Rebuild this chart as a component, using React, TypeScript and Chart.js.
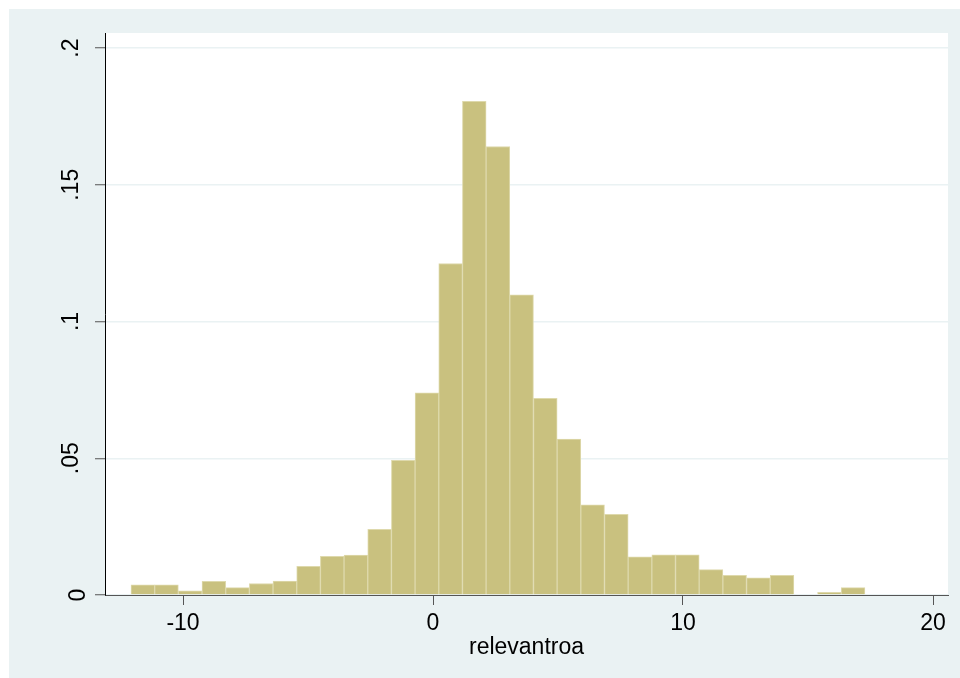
import React, { useEffect, useRef } from "react";
import { Chart, registerables } from "chart.js";

Chart.register(...registerables);

// Histogram bin centres (relevantroa) and densities
const binCenters = [
  -11.607, -10.66, -9.713, -8.766, -7.819, -6.872, -5.925, -4.978, -4.031, -3.084,
  -2.137, -1.19, -0.243, 0.704, 1.651, 2.598, 3.545, 4.492, 5.439, 6.386,
  7.333, 8.28, 9.227, 10.174, 11.121, 12.068, 13.015, 13.962, 14.909, 15.856,
  16.803,
];
const density = [
  0.0037, 0.0037, 0.0015, 0.005, 0.0027, 0.0042, 0.0051, 0.0105, 0.0141, 0.0146,
  0.024, 0.0492, 0.0739, 0.1212, 0.1805, 0.164, 0.1098, 0.0719, 0.057, 0.033,
  0.0295, 0.014, 0.0147, 0.0147, 0.0093, 0.0072, 0.0063, 0.0072, 0, 0.001,
  0.0027,
];
const xTicks = [-10, 0, 10, 20];
const yTicks = [0, 0.05, 0.1, 0.15, 0.2];
const yTickLabels = ["0", ".05", ".1", ".15", ".2"];
const xTitle = "relevantroa";

const FONT = "'Liberation Sans', Arial, sans-serif";

export default function App() {
  const ref = useRef<HTMLCanvasElement>(null);

  useEffect(() => {
    document.body.style.margin = "0";
    const canvas = ref.current;
    if (!canvas) return;

    const bgPlugin = {
      id: "bgPlugin",
      beforeDraw(chart: any) {
        const { ctx, chartArea: a, width, height } = chart;
        ctx.save();
        ctx.fillStyle = "#ffffff";
        ctx.fillRect(0, 0, width, height);
        ctx.fillStyle = "#EAF2F3";
        ctx.fillRect(9, 9, width - 9, height - 9);
        ctx.fillStyle = "#ffffff";
        ctx.fillRect(a.left, a.top, a.right - a.left, a.bottom - a.top);
        ctx.restore();
      },
    };

    const yLabelPlugin = {
      id: "yLabelPlugin",
      afterDraw(chart: any) {
        const s = chart.scales.y;
        const ctx = chart.ctx;
        ctx.save();
        ctx.fillStyle = "#000000";
        ctx.font = `23px ${FONT}`;
        ctx.textAlign = "center";
        ctx.textBaseline = "alphabetic";
        yTicks.forEach((v, i) => {
          const label = yTickLabels[i];
          const y = s.getPixelForValue(v);
          const x = label === "0" ? 85 : 78;
          ctx.save();
          ctx.translate(x, y);
          ctx.rotate(-Math.PI / 2);
          ctx.fillText(label, 0, 0);
          ctx.restore();
        });
        ctx.restore();
      },
    };

    const chart = new Chart(canvas, {
      type: "bar",
      data: {
        datasets: [
          {
            data: binCenters.map((x, i) => ({ x, y: density[i] })),
            backgroundColor: "#C9C17F",
            borderColor: "#DED9AC",
            borderWidth: 1,
            barPercentage: 1,
            categoryPercentage: 1,
          },
        ],
      },
      options: {
        responsive: false,
        animation: false,
        layout: { padding: { top: 33, right: 12, bottom: 0, left: 0 } },
        plugins: { legend: { display: false }, tooltip: { enabled: false } },
        scales: {
          x: {
            type: "linear",
            offset: false,
            min: -13.12,
            max: 20.6,
            afterBuildTicks(s: any) {
              s.ticks = xTicks.map((v) => ({ value: v }));
            },
            afterFit(s: any) {
              s.height = 83;
            },
            ticks: {
              color: "#000000",
              font: { family: FONT, size: 23 },
              padding: 5,
              maxRotation: 0,
              autoSkip: false,
              callback: (v: any) => String(v),
            },
            grid: {
              offset: false,
              drawOnChartArea: false,
              drawTicks: true,
              tickLength: 10,
              tickColor: "#555555",
              tickWidth: 1,
            },
            border: { color: "#555555", width: 1 },
            title: {
              display: true,
              text: xTitle,
              color: "#000000",
              font: { family: FONT, size: 23 },
              padding: { top: 0, bottom: 17 },
            },
          },
          y: {
            type: "linear",
            min: 0,
            max: 0.2055,
            afterBuildTicks(s: any) {
              s.ticks = yTicks.map((v) => ({ value: v }));
            },
            afterFit(s: any) {
              s.width = 105;
            },
            ticks: { display: false },
            grid: {
              color: "#EAF2F3",
              lineWidth: 1.5,
              drawTicks: true,
              tickLength: 10,
              tickColor: "#555555",
              tickWidth: 1,
            },
            border: { color: "#000000", width: 1 },
          },
        },
      },
      plugins: [bgPlugin, yLabelPlugin],
    });

    return () => chart.destroy();
  }, []);

  return (
    <div style={{ width: 960, height: 678 }}>
      <canvas ref={ref} width={960} height={678} />
    </div>
  );
}
